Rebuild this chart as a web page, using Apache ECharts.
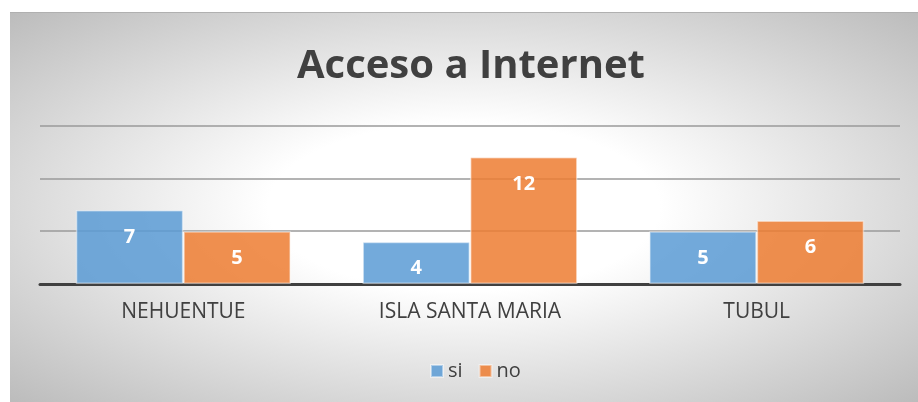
<!DOCTYPE html>
<html><head><meta charset="utf-8">
<script src="https://cdn.jsdelivr.net/npm/echarts@6/dist/echarts.min.js"></script>
<style>html,body{margin:0;padding:0;background:#fff}#c{width:918px;height:402px}</style>
</head><body><div id="c"></div>
<script>
const categories = ['NEHUENTUE', 'ISLA SANTA MARIA', 'TUBUL'];
const siValues = [7, 4, 5];
const noValues = [5, 12, 6];
const seriesNames = ['si', 'no'];

const chart = echarts.init(document.getElementById('c'), null, {renderer: 'canvas'});
const FONT = '"Open Sans", "Liberation Sans", sans-serif';
const W = 908, H = 390;
const label = {
  show: true, position: 'insideTop', distance: 17,
  color: '#ffffff', fontWeight: 'bold', fontSize: 20, fontFamily: FONT
};
chart.setOption({
  backgroundColor: '#ffffff',
  animation: false,
  graphic: [{
    type: 'rect', z: -100, silent: true,
    x: 10, y: 12, scaleX: W / H, scaleY: 1,
    shape: {x: 0, y: 0, width: H, height: H},
    style: {
      fill: {
        type: 'radial', x: 0.5, y: 0.5, r: 0.72,
        colorStops: [
          {offset: 0, color: '#ffffff'},
          {offset: 0.3, color: '#ffffff'},
          {offset: 1, color: '#bababa'}
        ]
      }
    }
  }, {
    type: 'line', z: -99, silent: true,
    shape: {x1: 10, y1: 12.5, x2: 918, y2: 12.5},
    style: {stroke: '#b0b0b0', lineWidth: 1}
  }],
  title: {
    text: 'Acceso a Internet', left: 292, top: 42,
    textStyle: {fontFamily: FONT, fontWeight: 'bold', fontSize: 40, color: '#404040'}
  },
  legend: {
    data: seriesNames, left: 425, top: 356,
    itemWidth: 12, itemHeight: 12, itemGap: 16,
    icon: 'rect',
    textStyle: {fontFamily: FONT, fontSize: 20, color: '#404040'}
  },
  grid: {left: 40, right: 18, top: 125.4, bottom: 118, containLabel: false},
  xAxis: {
    type: 'category', data: categories,
    axisLine: {lineStyle: {color: '#404040', width: 3}},
    axisTick: {show: false},
    axisLabel: {fontFamily: FONT, fontSize: 21, color: '#404040', margin: 18}
  },
  yAxis: {
    type: 'value', min: 0, max: 15, interval: 5,
    axisLabel: {show: false}, axisLine: {show: false}, axisTick: {show: false},
    splitLine: {lineStyle: {color: '#9a9a9a', width: 1.5}}
  },
  series: [{
    name: seriesNames[0], type: 'bar', data: siValues,
    barGap: '0%', barCategoryGap: '25%',
    itemStyle: {color: 'rgba(91,155,213,0.85)', borderColor: 'rgba(255,255,255,0.45)', borderWidth: 1.5},
    label: label
  }, {
    name: seriesNames[1], type: 'bar', data: noValues,
    itemStyle: {color: 'rgba(237,125,49,0.85)', borderColor: 'rgba(255,255,255,0.45)', borderWidth: 1.5},
    label: label
  }]
});
</script></body></html>
